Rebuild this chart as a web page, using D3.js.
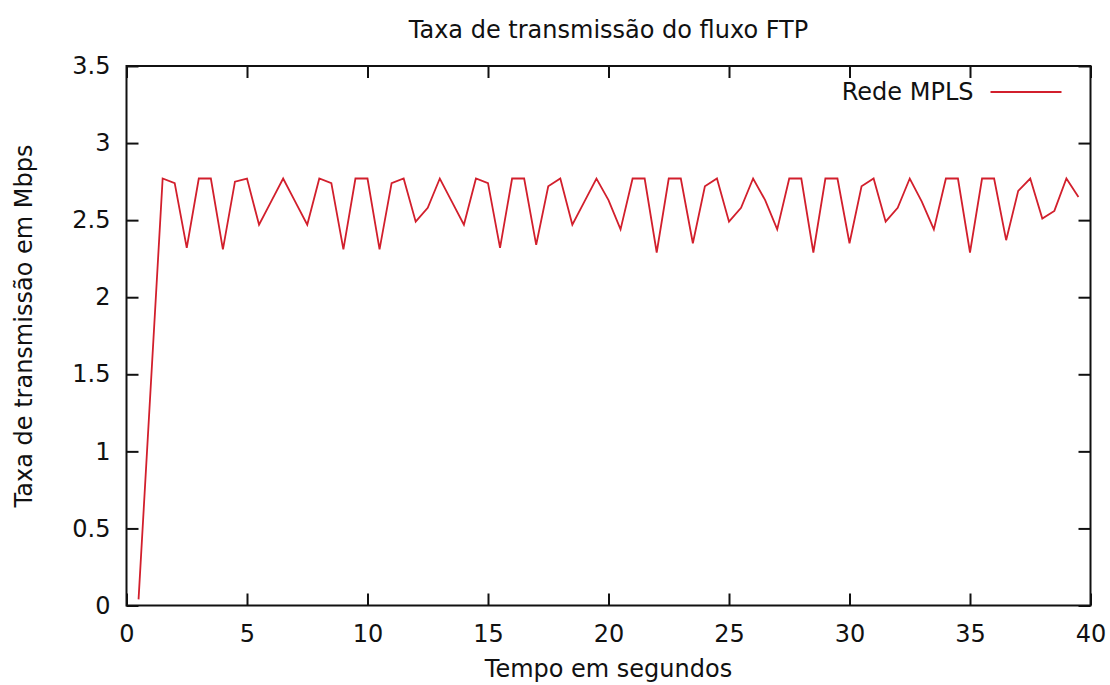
<!DOCTYPE html>
<html>
<head>
<meta charset="utf-8">
<script src="https://cdn.jsdelivr.net/npm/d3@7"></script>
<style>
  body { margin: 0; background: #fff; }
  #chart text { font-family: 'DejaVu Sans', sans-serif; fill: #111; }
  .line { fill: none; stroke: #d21f2c; stroke-width: 1.8; }
  .frame { fill: none; stroke: #111; stroke-width: 2; }
  .axis line { stroke: #111; stroke-width: 2; }
  .axis path { display: none; }
</style>
</head>
<body>
<div id="chart"></div>
<script>
// data
const times = [0.5, 1.5, 2, 2.5, 3, 3.5, 4, 4.5, 5, 5.5, 6, 6.5, 7, 7.5, 8, 8.5, 9, 9.5, 10,
  10.5, 11, 11.5, 12, 12.5, 13, 13.5, 14, 14.5, 15, 15.5, 16, 16.5, 17, 17.5, 18, 18.5, 19, 19.5, 20,
  20.5, 21, 21.5, 22, 22.5, 23, 23.5, 24, 24.5, 25, 25.5, 26, 26.5, 27, 27.5, 28, 28.5, 29, 29.5, 30,
  30.5, 31, 31.5, 32, 32.5, 33, 33.5, 34, 34.5, 35, 35.5, 36, 36.5, 37, 37.5, 38, 38.5, 39, 39.5];

const rates = [0.04, 2.77, 2.74, 2.32, 2.77, 2.77, 2.31, 2.75, 2.77, 2.47, 2.62, 2.77, 2.62, 2.47, 2.77, 2.74, 2.31, 2.77, 2.77,
  2.31, 2.74, 2.77, 2.49, 2.58, 2.77, 2.62, 2.47, 2.77, 2.74, 2.32, 2.77, 2.77, 2.34, 2.72, 2.77, 2.47, 2.62, 2.77, 2.63,
  2.44, 2.77, 2.77, 2.29, 2.77, 2.77, 2.35, 2.72, 2.77, 2.49, 2.58, 2.77, 2.63, 2.44, 2.77, 2.77, 2.29, 2.77, 2.77, 2.35,
  2.72, 2.77, 2.49, 2.58, 2.77, 2.62, 2.44, 2.77, 2.77, 2.29, 2.77, 2.77, 2.37, 2.69, 2.77, 2.51, 2.56, 2.77, 2.65];

const xTicks = [0, 5, 10, 15, 20, 25, 30, 35, 40];
const yTicks = [0, 0.5, 1, 1.5, 2, 2.5, 3, 3.5];

const seriesName = 'Rede MPLS';
const chartTitle = 'Taxa de transmissão do fluxo FTP';
const xLabel = 'Tempo em segundos';
const yLabel = 'Taxa de transmissão em Mbps';

// sizes
const totalWidth = 1110,
      totalHeight = 685,
      fontSize = 24,
      margins = {
        top: 66,
        right: 19.5,
        bottom: 79.5,
        left: 126.5
      };

let width,
    height,
    xScale,
    yScale,
    line,
    $svg,
    $g;

function constructChart() {
  width = totalWidth - margins.left - margins.right;
  height = totalHeight - margins.top - margins.bottom;

  const points = times.map((t, i) => ({ t: t, v: rates[i] }));

  xScale = d3.scaleLinear()
    .domain([0, 40])
    .range([0, width]);

  yScale = d3.scaleLinear()
    .domain([0, 3.5])
    .range([height, 0]);

  line = d3.line()
    .x(d => xScale(d.t))
    .y(d => yScale(d.v));

  $svg = d3.select('#chart').append('svg')
    .attr('width', totalWidth)
    .attr('height', totalHeight);

  $g = $svg.append('g')
    .attr('transform', `translate(${margins.left}, ${margins.top})`);

  // axes, ticks point inward on all four sides
  $g.append('g')
    .classed('axis', true)
    .attr('transform', `translate(0, ${height})`)
    .call(d3.axisBottom(xScale).tickValues(xTicks).tickSize(-12).tickPadding(19).tickFormat(d3.format('d')));

  $g.append('g')
    .classed('axis', true)
    .call(d3.axisTop(xScale).tickValues(xTicks).tickSize(-12).tickFormat(''));

  $g.append('g')
    .classed('axis', true)
    .call(d3.axisLeft(yScale).tickValues(yTicks).tickSize(-12).tickPadding(16).tickFormat(d => d));

  $g.append('g')
    .classed('axis', true)
    .attr('transform', `translate(${width}, 0)`)
    .call(d3.axisRight(yScale).tickValues(yTicks).tickSize(-12).tickFormat(''));

  $g.selectAll('.axis text')
    .style('font-size', fontSize + 'px');

  $g.append('rect')
    .classed('frame', true)
    .attr('width', width)
    .attr('height', height);

  $g.append('path')
    .datum(points)
    .classed('line', true)
    .attr('d', line);

  // legend
  const $legend = $g.append('g')
    .attr('transform', `translate(${width - 29}, 26)`);

  $legend.append('line')
    .attr('x1', -71)
    .attr('x2', 0)
    .attr('stroke', '#d21f2c')
    .attr('stroke-width', 1.8);

  $legend.append('text')
    .attr('x', -88)
    .attr('dy', '0.35em')
    .attr('text-anchor', 'end')
    .style('font-size', fontSize + 'px')
    .text(seriesName);

  // titles
  $svg.append('text')
    .attr('x', margins.left + width / 2)
    .attr('y', 38)
    .attr('text-anchor', 'middle')
    .style('font-size', fontSize + 'px')
    .text(chartTitle);

  $svg.append('text')
    .attr('x', margins.left + width / 2)
    .attr('y', 677)
    .attr('text-anchor', 'middle')
    .style('font-size', fontSize + 'px')
    .text(xLabel);

  $svg.append('text')
    .attr('transform', 'translate(32, 326) rotate(-90)')
    .attr('text-anchor', 'middle')
    .style('font-size', fontSize + 'px')
    .text(yLabel);
}

constructChart();
</script>
</body>
</html>
